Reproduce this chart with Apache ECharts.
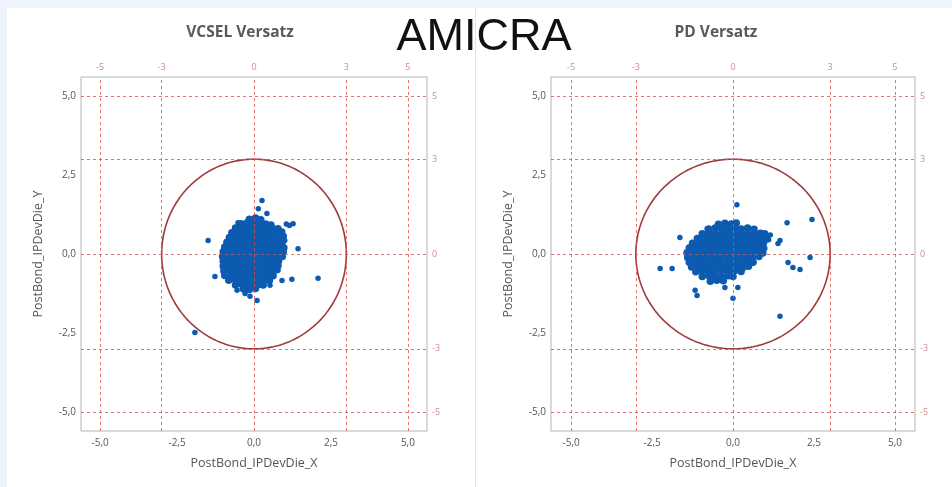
<!DOCTYPE html>
<html><head><meta charset="utf-8">
<script src="https://cdn.jsdelivr.net/npm/echarts@6/dist/echarts.min.js"></script>
<style>html,body{margin:0;padding:0;background:#fff}#c{width:952px;height:487px}</style>
</head><body><div id="c"></div>
<script>
const mainTitle = 'AMICRA';
const panelTitles = ['VCSEL Versatz', 'PD Versatz'];
const xAxisName = 'PostBond_IPDevDie_X';
const yAxisName = 'PostBond_IPDevDie_Y';
const axisTickValues = [-5, -2.5, 0, 2.5, 5];
const refValues = [-5, -3, 0, 3, 5];
const specCircle = [[0, 0, 3]];

const vcselCore = [
  [-0.15,1.1],[0.05,1.14],[0.22,1.08],
  [-0.42,0.96],[-0.22,0.99],[-0.02,1.0],[0.18,0.97],[0.38,0.95],[0.55,0.92],
  [-0.6,0.82],[-0.4,0.85],[-0.2,0.83],[0.0,0.86],[0.2,0.82],[0.4,0.84],[0.6,0.81],[0.78,0.8],
  [-0.72,0.67],[-0.52,0.7],[-0.32,0.68],[-0.12,0.69],[0.08,0.66],[0.28,0.7],[0.48,0.68],[0.68,0.67],[0.9,0.7],
  [-0.8,0.52],[-0.6,0.55],[-0.4,0.53],[-0.2,0.51],[0.0,0.54],[0.2,0.52],[0.4,0.55],[0.6,0.53],[0.8,0.51],[0.95,0.56],
  [-0.88,0.37],[-0.68,0.4],[-0.48,0.38],[-0.28,0.36],[-0.08,0.39],[0.12,0.37],[0.32,0.4],[0.52,0.38],[0.72,0.36],[0.92,0.39],
  [-0.95,0.22],[-0.75,0.25],[-0.55,0.23],[-0.35,0.21],[-0.15,0.24],[0.05,0.22],[0.25,0.25],[0.45,0.23],[0.65,0.21],[0.85,0.24],[0.97,0.2],
  [-1.0,0.07],[-0.8,0.1],[-0.6,0.08],[-0.4,0.06],[-0.2,0.09],[0.0,0.07],[0.2,0.1],[0.4,0.08],[0.6,0.06],[0.8,0.09],[0.95,0.06],
  [-1.02,-0.08],[-0.82,-0.05],[-0.62,-0.07],[-0.42,-0.09],[-0.22,-0.06],[-0.02,-0.08],[0.18,-0.05],[0.38,-0.07],[0.58,-0.09],[0.78,-0.06],[0.92,-0.08],
  [-1.0,-0.23],[-0.8,-0.2],[-0.6,-0.22],[-0.4,-0.24],[-0.2,-0.21],[0.0,-0.23],[0.2,-0.2],[0.4,-0.22],[0.6,-0.24],[0.8,-0.21],
  [-1.0,-0.38],[-0.8,-0.35],[-0.6,-0.37],[-0.4,-0.39],[-0.2,-0.36],[0.0,-0.38],[0.2,-0.35],[0.4,-0.37],[0.6,-0.39],[0.78,-0.36],
  [-0.98,-0.53],[-0.78,-0.5],[-0.58,-0.52],[-0.38,-0.54],[-0.18,-0.51],[0.02,-0.53],[0.22,-0.5],[0.42,-0.52],[0.62,-0.54],[0.75,-0.5],
  [-0.95,-0.68],[-0.75,-0.65],[-0.55,-0.67],[-0.35,-0.69],[-0.15,-0.66],[0.05,-0.68],[0.25,-0.65],[0.45,-0.67],[0.62,-0.69],
  [-0.82,-0.83],[-0.62,-0.8],[-0.42,-0.82],[-0.22,-0.84],[-0.02,-0.81],[0.18,-0.83],[0.38,-0.8],[0.5,-0.84],
  [-0.6,-0.98],[-0.4,-0.95],[-0.2,-0.97],[0.0,-0.99],[0.2,-0.96],[0.3,-0.98],
  [-0.35,-1.1],[-0.15,-1.12],[0.05,-1.09]
];
const vcselOutliers = [
  [-1.49,0.43],[0.26,1.69],[0.14,1.43],[0.42,1.28],[-0.52,0.99],[1.27,0.96],[1.15,0.9],[1.05,0.95],
  [1.0,0.43],[1.43,0.17],[2.08,-0.77],[1.23,-0.8],[0.91,-0.84],[0.52,-0.99],[-1.27,-0.71],
  [-0.55,-1.15],[-0.29,-1.25],[-0.13,-1.34],[0.1,-1.47],[-1.92,-2.48]
];

const pdCore = [
  [-0.45,0.94],[-0.25,0.97],[-0.05,0.95],[0.1,0.98],
  [-0.75,0.79],[-0.55,0.82],[-0.35,0.8],[-0.15,0.78],[0.05,0.81],[0.25,0.79],[0.45,0.82],[0.65,0.78],
  [-0.95,0.64],[-0.75,0.67],[-0.55,0.65],[-0.35,0.63],[-0.15,0.66],[0.05,0.64],[0.25,0.67],[0.45,0.65],[0.65,0.63],[0.85,0.66],[0.98,0.64],
  [-1.1,0.49],[-0.9,0.52],[-0.7,0.5],[-0.5,0.48],[-0.3,0.51],[-0.1,0.49],[0.1,0.52],[0.3,0.5],[0.5,0.48],[0.7,0.51],[0.9,0.49],[1.0,0.53],
  [-1.25,0.34],[-1.05,0.37],[-0.85,0.35],[-0.65,0.33],[-0.45,0.36],[-0.25,0.34],[-0.05,0.37],[0.15,0.35],[0.35,0.33],[0.55,0.36],[0.75,0.34],[0.95,0.37],
  [-1.35,0.19],[-1.15,0.22],[-0.95,0.2],[-0.75,0.18],[-0.55,0.21],[-0.35,0.19],[-0.15,0.22],[0.05,0.2],[0.25,0.18],[0.45,0.21],[0.65,0.19],[0.85,0.22],[0.95,0.18],
  [-1.42,0.04],[-1.22,0.07],[-1.02,0.05],[-0.82,0.03],[-0.62,0.06],[-0.42,0.04],[-0.22,0.07],[-0.02,0.05],[0.18,0.03],[0.38,0.06],[0.58,0.04],[0.78,0.07],[0.92,0.03],
  [-1.4,-0.11],[-1.2,-0.08],[-1.0,-0.1],[-0.8,-0.12],[-0.6,-0.09],[-0.4,-0.11],[-0.2,-0.08],[0.0,-0.1],[0.2,-0.12],[0.4,-0.09],[0.6,-0.11],[0.8,-0.08],
  [-1.35,-0.26],[-1.15,-0.23],[-0.95,-0.25],[-0.75,-0.27],[-0.55,-0.24],[-0.35,-0.26],[-0.15,-0.23],[0.05,-0.25],[0.25,-0.27],[0.45,-0.24],[0.62,-0.26],
  [-1.28,-0.41],[-1.08,-0.38],[-0.88,-0.4],[-0.68,-0.42],[-0.48,-0.39],[-0.28,-0.41],[-0.08,-0.38],[0.12,-0.4],[0.32,-0.42],[0.48,-0.39],
  [-1.15,-0.56],[-0.95,-0.53],[-0.75,-0.55],[-0.55,-0.57],[-0.35,-0.54],[-0.15,-0.56],[0.05,-0.53],[0.25,-0.55],
  [-0.95,-0.71],[-0.75,-0.68],[-0.55,-0.7],[-0.35,-0.72],[-0.15,-0.69],[0.0,-0.71],
  [-0.7,-0.86],[-0.5,-0.83],[-0.3,-0.85]
];
const pdOutliers = [
  [0.12,1.56],[1.67,0.99],[2.44,1.09],[1.45,0.43],[1.39,0.33],[2.38,-0.11],[1.7,-0.27],[1.85,-0.43],
  [2.07,-0.49],[-1.88,-0.46],[-2.25,-0.46],[-1.64,0.52],[-1.17,-1.15],[-1.11,-1.31],[0.0,-1.4],
  [-0.25,-1.06],[0.15,-1.06],[-0.8,0.8],[1.45,-1.97],[1.15,0.6],[1.1,0.45]
];

const panels = [
  {core: vcselCore, outliers: vcselOutliers, left: 81, width: 346, titleX: 240},
  {core: pdCore, outliers: pdOutliers, left: 551, width: 364, titleX: 716}
];

const fmt = v => v.toFixed(1).replace('.', ',');
const FONT = 'Open Sans';
const refColor = '#d9534f';
const dotColor = '#0d5bb0';

const grids = [], xAxes = [], yAxes = [], series = [];
panels.forEach((p, i) => {
  grids.push({left: p.left, top: 77, width: p.width, height: 354, show: true,
    borderColor: '#b4b4b4', borderWidth: 1, backgroundColor: 'transparent'});
  xAxes.push({type: 'value', gridIndex: i, min: -5.62, max: 5.62,
    name: xAxisName, nameLocation: 'middle', nameGap: 26,
    nameTextStyle: {color: '#555', fontSize: 12.5, fontFamily: FONT},
    axisLine: {show: false}, axisTick: {show: false}, splitLine: {show: false},
    axisLabel: {customValues: axisTickValues, formatter: fmt, color: '#555', fontSize: 10, margin: 7, fontFamily: FONT}});
  yAxes.push({type: 'value', gridIndex: i, min: -5.6, max: 5.6,
    name: yAxisName, nameLocation: 'middle', nameGap: 36,
    nameTextStyle: {color: '#555', fontSize: 12.5, fontFamily: FONT},
    axisLine: {show: false}, axisTick: {show: false}, splitLine: {show: false},
    axisLabel: {customValues: axisTickValues, formatter: fmt, color: '#555', fontSize: 10, margin: 5, fontFamily: FONT}});
  series.push({
    type: 'scatter', xAxisIndex: i, yAxisIndex: i, data: [], silent: true, z: 1,
    markLine: {
      silent: true, symbol: ['none', 'none'], animation: false,
      lineStyle: {color: refColor, type: [3, 3], width: 1, opacity: 0.8},
      label: {show: true, position: 'end', formatter: '{c}', color: '#c07070', fontSize: 9, fontFamily: FONT, distance: 5},
      data: refValues.map(v => ({xAxis: v})).concat(refValues.map(v => ({yAxis: v})))
    }
  });
  series.push({
    type: 'custom', xAxisIndex: i, yAxisIndex: i, data: specCircle, silent: true, z: 2,
    renderItem: (params, api) => {
      const cx = api.value(0), cy = api.value(1), r = api.value(2);
      const pts = [];
      for (let k = 0; k <= 180; k++) {
        const t = k / 180 * Math.PI * 2;
        pts.push(api.coord([cx + r * Math.cos(t), cy + r * Math.sin(t)]));
      }
      return {type: 'polyline', shape: {points: pts}, style: {fill: 'none', stroke: '#9e3a3a', lineWidth: 1.6}};
    }
  });
  series.push({
    type: 'scatter', xAxisIndex: i, yAxisIndex: i, data: p.core, z: 3,
    symbolSize: 7.5, itemStyle: {color: dotColor, opacity: 1}, silent: true
  });
  series.push({
    type: 'scatter', xAxisIndex: i, yAxisIndex: i, data: p.outliers, z: 3,
    symbolSize: 5.5, itemStyle: {color: dotColor, opacity: 1}, silent: true
  });
});

const graphics = [
  {type: 'rect', shape: {x: 0, y: 0, width: 952, height: 8}, style: {fill: '#edf4fb'}, silent: true},
  {type: 'rect', shape: {x: 0, y: 0, width: 7, height: 487}, style: {fill: '#edf4fb'}, silent: true},
  {type: 'line', shape: {x1: 475.5, y1: 8, x2: 475.5, y2: 487}, style: {stroke: '#e4e4e4', lineWidth: 1}, silent: true},
  {type: 'text', x: 484, y: 38, style: {text: mainTitle, font: '45px "Liberation Sans", Arial, sans-serif', fill: '#111', textAlign: 'center', textVerticalAlign: 'middle'}, silent: true}
];
panels.forEach((p, i) => {
  graphics.push({type: 'text', x: p.titleX, y: 33, style: {text: panelTitles[i], font: 'bold 15.5px "Open Sans", sans-serif', fill: '#5a5a5a', textAlign: 'center', textVerticalAlign: 'middle'}, silent: true});
});

const chart = echarts.init(document.getElementById('c'));
chart.setOption({
  animation: false,
  backgroundColor: '#fff',
  grid: grids, xAxis: xAxes, yAxis: yAxes, series: series,
  graphic: graphics
});
</script></body></html>
